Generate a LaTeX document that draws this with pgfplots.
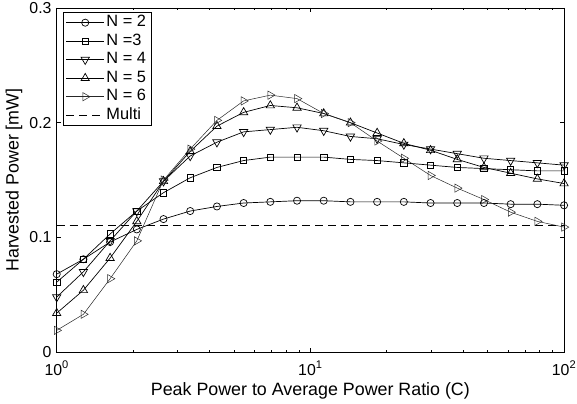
\documentclass[border=0pt]{standalone}
\usepackage{fontspec}
\setmainfont{Liberation Sans}
\usepackage{pgfplots}
\pgfplotsset{compat=1.18}
\usepackage{pgfplotstable}

\pgfplotstableread{
x       n2     n3     n4     n5     n6
1.0000  0.068  0.061  0.048  0.034  0.019
1.2743  0.081  0.081  0.070  0.054  0.033
1.6238  0.096  0.103  0.097  0.082  0.064
2.0691  0.107  0.123  0.123  0.114  0.097
2.6367  0.116  0.139  0.149  0.149  0.150
3.3598  0.123  0.152  0.171  0.175  0.177
4.2813  0.127  0.161  0.183  0.197  0.202
5.4556  0.130  0.167  0.192  0.209  0.219
6.9519  0.131  0.170  0.194  0.215  0.224
8.8587  0.132  0.170  0.196  0.213  0.221
11.288  0.132  0.170  0.193  0.208  0.208
14.384  0.131  0.168  0.188  0.200  0.200
18.330  0.131  0.167  0.186  0.191  0.184
23.357  0.131  0.165  0.181  0.182  0.169
29.764  0.130  0.163  0.177  0.176  0.154
37.927  0.130  0.161  0.173  0.168  0.143
48.329  0.130  0.160  0.169  0.161  0.133
61.585  0.129  0.159  0.167  0.156  0.122
78.476  0.129  0.158  0.165  0.151  0.114
100.00  0.128  0.158  0.163  0.147  0.109
}\datatable

\begin{document}
\begin{tikzpicture}
\begin{axis}[
  scale only axis,
  width=510bp, height=346bp,
  xmode=log,
  xmin=1, xmax=100, ymin=0, ymax=0.3,
  xtick={1,10,100},
  xticklabels={10\textsuperscript{0},10\textsuperscript{1},10\textsuperscript{2}},
  minor xtick={2,3,4,5,6,7,8,9,20,30,40,50,60,70,80,90},
  ytick={0,0.1,0.2,0.3},
  yticklabels={0,0.1,0.2,0.3},
  tick align=inside,
  major tick length=4.5bp,
  minor tick length=2.5bp,
  axis line style={line width=0.6pt},
  every tick/.style={black, line width=0.5pt},
  tick label style={font=\fontsize{16}{19}\selectfont},
  xticklabel style={anchor=base, inner sep=0pt, yshift=-23bp},
  yticklabel style={anchor=east, inner sep=0pt, xshift=-5bp},
  xlabel={Peak Power to Average Power Ratio (C)},
  ylabel={Harvested Power [mW]},
  xlabel style={font=\fontsize{18}{21}\selectfont, at={(axis description cs:0.5,0)}, anchor=base, inner sep=0pt, yshift=-44bp},
  ylabel style={font=\fontsize{18}{21}\selectfont, at={(axis description cs:-0.0843,0.5)}, anchor=center, inner sep=0pt},
  legend style={at={(axis description cs:0.0118,0.9884)}, anchor=north west,
    font=\fontsize{16.5}{19}\selectfont, draw=black, line width=0.6pt,
    inner xsep=3bp, inner ysep=1.5bp, row sep=0.6bp,
    nodes={text height=12bp, text depth=4bp, inner ysep=1bp},
    cells={anchor=west}},
  legend image code/.code={\draw[mark repeat=2,mark phase=2] plot coordinates {(0bp,0bp) (19bp,0bp) (38bp,0bp)};},
]
\addplot[black, line width=0.7pt, mark=o, mark size=3.6bp, mark options={solid, fill=white}] table[x=x,y=n2]{\datatable};
\addlegendentry{N = 2}
\addplot[black, line width=0.7pt, mark=square, mark size=3.2bp, mark options={solid, fill=white}] table[x=x,y=n3]{\datatable};
\addlegendentry{N =3}
\addplot[black, line width=0.7pt, mark=triangle, mark size=4.8bp, mark options={solid, fill=white, rotate=180}] table[x=x,y=n4]{\datatable};
\addlegendentry{N = 4}
\addplot[black, line width=0.7pt, mark=triangle, mark size=4.8bp, mark options={solid, fill=white}] table[x=x,y=n5]{\datatable};
\addlegendentry{N = 5}
\addplot[black!85, line width=0.5pt, mark=triangle, mark size=4.8bp, mark options={solid, fill=white, rotate=-90}] table[x=x,y=n6]{\datatable};
\addlegendentry{N = 6}
\addplot[black, line width=0.6pt, dash pattern=on 8bp off 5bp] coordinates {(1,0.111) (100,0.111)};
\addlegendentry{Multi}
\coordinate (sw) at (rel axis cs:0,0);
\coordinate (ne) at (rel axis cs:1,1);
\end{axis}
\pgfresetboundingbox
\path[use as bounding box] ([xshift=-57bp,yshift=-52bp]sw) rectangle ([xshift=13bp,yshift=8bp]ne);
\end{tikzpicture}
\end{document}
